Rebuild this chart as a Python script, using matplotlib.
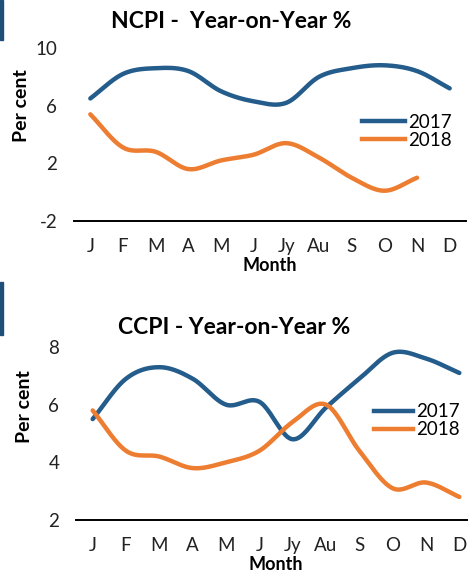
import numpy as np
import matplotlib.pyplot as plt
from matplotlib.lines import Line2D
from matplotlib.patches import Rectangle

plt.rcParams['font.family'] = ['Lato', 'DejaVu Sans']

months = ['J', 'F', 'M', 'A', 'M', 'J', 'Jy', 'Au', 'S', 'O', 'N', 'D']

ncpi_2017 = [6.5, 8.2, 8.6, 8.4, 7.0, 6.3, 6.2, 8.0, 8.6, 8.8, 8.4, 7.2]
ncpi_2018 = [5.4, 3.1, 2.8, 1.6, 2.2, 2.6, 3.4, 2.4, 1.0, 0.1, 1.0]

ccpi_2017 = [5.5, 6.9, 7.3, 6.9, 6.0, 6.1, 4.8, 5.9, 6.9, 7.8, 7.6, 7.1]
ccpi_2018 = [5.8, 4.4, 4.2, 3.8, 4.0, 4.4, 5.4, 6.0, 4.4, 3.1, 3.3, 2.8]

blue = '#245C8C'
orange = '#ED7D31'


def smooth(vals, n=24):
    # catmull-rom style smoothing, like excel's "smoothed line"
    y = np.asarray(vals, dtype=float)
    x = np.arange(len(y), dtype=float)
    px = np.concatenate([[2 * x[0] - x[1]], x, [2 * x[-1] - x[-2]]])
    py = np.concatenate([[2 * y[0] - y[1]], y, [2 * y[-1] - y[-2]]])
    xs, ys = [], []
    t = np.linspace(0, 1, n, endpoint=False)
    for i in range(1, len(px) - 2):
        for p, out in ((px, xs), (py, ys)):
            p0, p1, p2, p3 = p[i - 1], p[i], p[i + 1], p[i + 2]
            out.extend(0.5 * ((2 * p1) + (-p0 + p2) * t
                              + (2 * p0 - 5 * p1 + 4 * p2 - p3) * t ** 2
                              + (-p0 + 3 * p1 - 3 * p2 + p3) * t ** 3))
    xs.append(x[-1])
    ys.append(y[-1])
    return xs, ys


def draw(ax, s17, s18, ylim, yticks, leg_pos, hlen, ylab_xy):
    ax.plot(*smooth(s17), color=blue, lw=3.2, solid_capstyle='round')
    ax.plot(*smooth(s18), color=orange, lw=3.2, solid_capstyle='round')
    ax.set_xlim(-0.5, 11.5)
    ax.set_ylim(*ylim)
    ax.set_yticks(yticks)
    ax.set_yticklabels([str(v) for v in yticks])
    ax.set_xticks(range(12))
    ax.set_xticklabels(months)
    ax.tick_params(length=0, labelsize=13.5, colors='#222222')
    ax.tick_params(axis='x', pad=12)
    ax.tick_params(axis='y', pad=12)
    for side in ['top', 'right', 'left']:
        ax.spines[side].set_visible(False)
    ax.spines['bottom'].set_linewidth(1.4)
    ax.spines['bottom'].set_clip_on(False)
    ax.set_xlabel('Month', fontsize=13, fontweight='bold', labelpad=2)
    ax.set_ylabel('Per cent', fontsize=14, fontweight='bold', va='center')
    ax.yaxis.set_label_coords(*ylab_xy)
    handles = [Line2D([], [], color=blue, lw=3.2), Line2D([], [], color=orange, lw=3.2)]
    ax.legend(handles, ['2017', '2018'], loc='upper left', bbox_to_anchor=leg_pos,
              frameon=False, fontsize=13.5, handlelength=hlen, handletextpad=0.15,
              labelspacing=0.05, borderpad=0, borderaxespad=0)


fig = plt.figure(figsize=(4.68, 5.75), dpi=100)

ax1 = fig.add_axes([74 / 468, 1 - 221 / 575, 392 / 468, 173 / 575])
draw(ax1, ncpi_2017, ncpi_2018, (-2, 10), [-2, 2, 6, 10], (0.735, 0.62), 2.3,
     (-0.133, 0.67))
fig.text(231 / 468, 1 - 22 / 575, 'NCPI -  Year-on-Year %', ha='center', va='center',
         fontsize=16.5, fontweight='bold')

ax2 = fig.add_axes([76 / 468, 1 - 520 / 575, 400 / 468, 173 / 575])
draw(ax2, ccpi_2017, ccpi_2018, (2, 8), [2, 4, 6, 8], (0.745, 0.675), 2.1,
     (-0.1275, 0.653))
fig.text(234 / 468, 1 - 328 / 575, 'CCPI - Year-on-Year %', ha='center', va='center',
         fontsize=16.5, fontweight='bold')

# dark accent bars on the left edge
fig.patches.append(Rectangle((0, 1 - 40 / 575), 2.5 / 468, 40 / 575,
                             transform=fig.transFigure, color='#1F4E79'))
fig.patches.append(Rectangle((0, 1 - 335 / 575), 2.5 / 468, 53 / 575,
                             transform=fig.transFigure, color='#1F4E79'))

fig.savefig('out.png', dpi=100)
